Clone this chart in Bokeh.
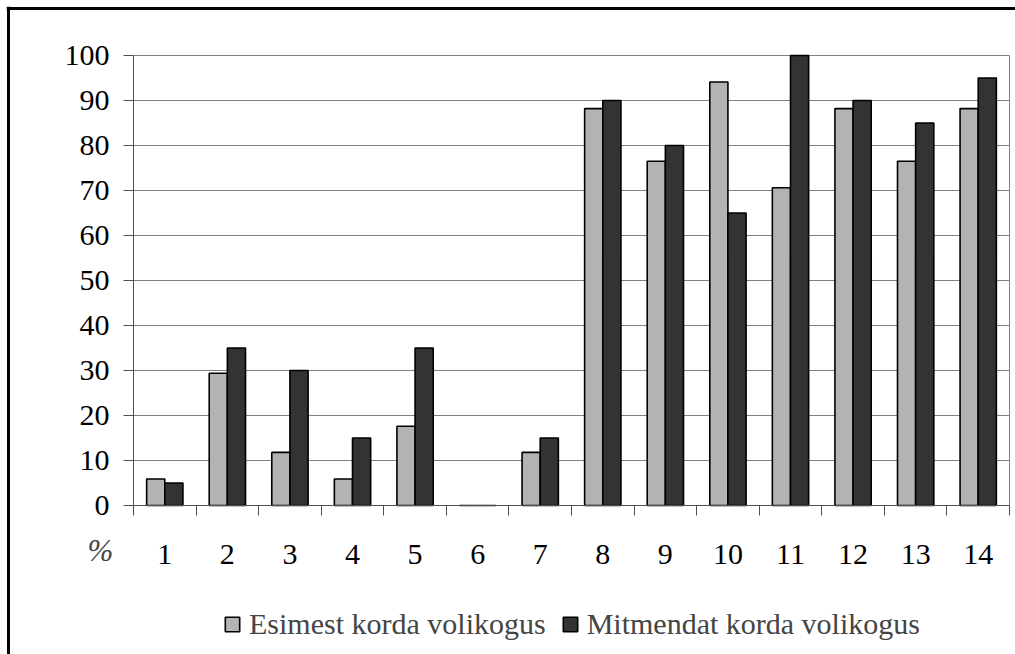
from bokeh.plotting import figure
from bokeh.models import (ColumnDataSource, FixedTicker, Range1d, Legend, LegendItem,
                          Label, LinearAxis)
from bokeh.transform import dodge
from bokeh.embed import file_html
from bokeh.resources import INLINE

categories = ["1", "2", "3", "4", "5", "6", "7", "8", "9", "10", "11", "12", "13", "14"]
first_time = [5.9, 29.4, 11.8, 5.9, 17.6, 0, 11.8, 88.2, 76.5, 94.1, 70.6, 88.2, 76.5, 88.2]
repeat_time = [5, 35, 30, 15, 35, 0, 15, 90, 80, 65, 100, 90, 85, 95]
series_names = ["Esimest korda volikogus", "Mitmendat korda volikogus"]
y_ticks = [0, 10, 20, 30, 40, 50, 60, 70, 80, 90, 100]
unit_label = "%"

FONT = "Liberation Serif"
GRID = "#808080"
AXIS = "#505050"

n = len(categories)
xs = list(range(1, n + 1))
src = ColumnDataSource(dict(x=xs, a=first_time, b=repeat_time))

PX_X = 876 / 14.0   # pixels per x unit
PX_Y = 4.5          # pixels per y unit
X0, X1 = 0.5 - 127 / PX_X, 0.5 + 882 / PX_X
Y0, Y1 = -149 / PX_Y, 100 + 49 / PX_Y

# the frame covers the whole canvas; axes are placed at fixed locations inside it
p = figure(width=1015, height=654, output_backend="svg", toolbar_location=None,
           x_range=Range1d(X0, X1), y_range=Range1d(Y0, Y1),
           x_axis_location=None, y_axis_location=None,
           min_border_left=6, min_border_top=6, min_border_right=0, min_border_bottom=0)
p.outline_line_color = None
p.xgrid.visible = False
p.ygrid.visible = False

# outer chart border (left and top edges only are visible in the window)
p.add_layout(LinearAxis(fixed_location=X0 + 1.5 / PX_X, bounds=(Y0, Y1), ticker=FixedTicker(ticks=[]),
                        axis_line_color="black", axis_line_width=3,
                        major_tick_line_color=None, minor_tick_line_color=None), "left")
p.add_layout(LinearAxis(fixed_location=Y1 - 1.5 / PX_Y, bounds=(X0, X1), ticker=FixedTicker(ticks=[]),
                        axis_line_color="black", axis_line_width=3,
                        major_tick_line_color=None, minor_tick_line_color=None), "above")

# gridlines and right border of plot area (inward ticks of an axis at the right edge)
gaxis = LinearAxis(fixed_location=n + 0.5, bounds=(0, 100), level="underlay",
                   ticker=FixedTicker(ticks=y_ticks),
                   major_label_overrides={t: "" for t in y_ticks},
                   axis_line_color=GRID, major_tick_line_color=GRID,
                   major_tick_in=876, major_tick_out=0, minor_tick_line_color=None)
p.add_layout(gaxis, "right")

r1 = p.vbar(x=dodge("x", -0.145, range=p.x_range), top="a", width=0.29, source=src,
            fill_color="#b3b3b3", line_color="black", line_width=1.6)
r2 = p.vbar(x=dodge("x", 0.145, range=p.x_range), top="b", width=0.29, source=src,
            fill_color="#333333", line_color="black", line_width=1.6)

xaxis = LinearAxis(fixed_location=0, bounds=(0.5, n + 0.5),
                   ticker=FixedTicker(ticks=xs, minor_ticks=[i + 0.5 for i in range(0, n + 1)]),
                   major_label_overrides={i: c for i, c in zip(xs, categories)},
                   major_tick_line_color=None, major_tick_out=0, major_tick_in=0,
                   minor_tick_line_color=AXIS, minor_tick_out=10, minor_tick_in=0,
                   axis_line_color=AXIS,
                   major_label_text_font=FONT, major_label_text_font_size="30px",
                   major_label_text_color="black", major_label_standoff=29)
p.add_layout(xaxis, "below")

yaxis = LinearAxis(fixed_location=0.5, bounds=(0, 100),
                   ticker=FixedTicker(ticks=y_ticks),
                   major_tick_line_color=AXIS, major_tick_out=10, major_tick_in=0,
                   minor_tick_line_color=None, axis_line_color=AXIS,
                   major_label_text_font=FONT, major_label_text_font_size="30px",
                   major_label_text_color="black", major_label_standoff=14)
p.add_layout(yaxis, "left")

pct = Label(x=-0.027, y=-10, text=unit_label, text_font=FONT, text_font_size="31px",
            text_font_style="italic", text_align="center", text_baseline="middle")
p.add_layout(pct)

legend = Legend(items=[LegendItem(label=series_names[0], renderers=[r1]),
                       LegendItem(label=series_names[1], renderers=[r2])],
                orientation="horizontal", location=(217, 13),
                label_text_font=FONT, label_text_font_size="30px",
                glyph_width=18, glyph_height=18, label_standoff=8, spacing=15,
                padding=0, margin=0, border_line_color=None, background_fill_alpha=0,
                label_height=30)
p.add_layout(legend)

open("out.html", "w").write(file_html(p, INLINE))
